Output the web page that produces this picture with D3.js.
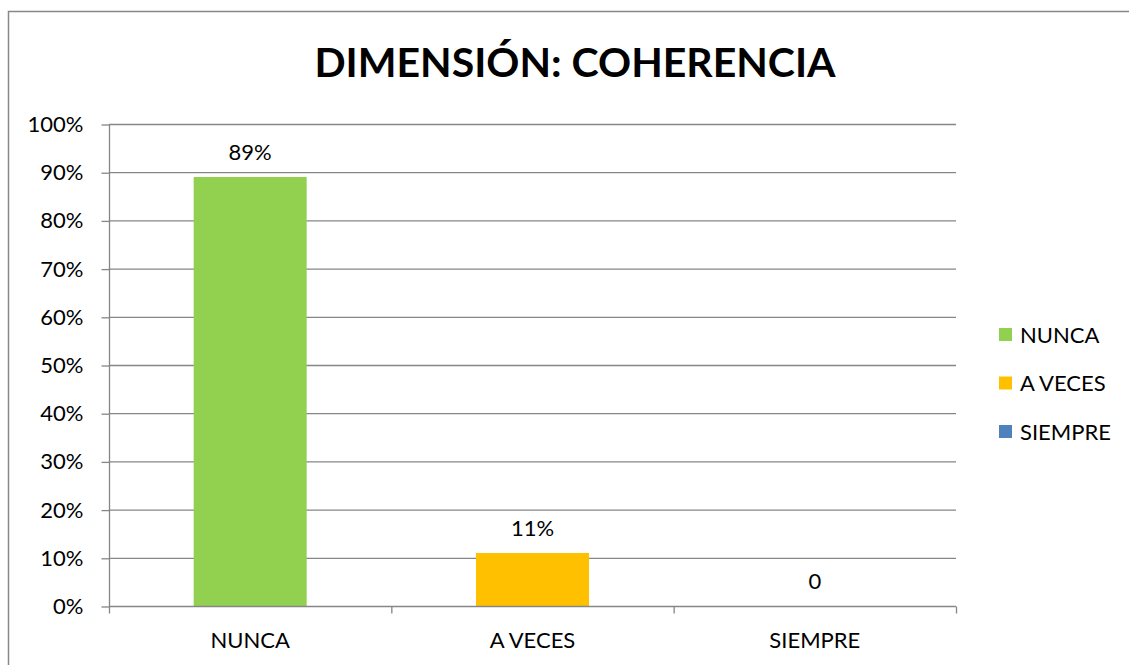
<!DOCTYPE html>
<html><head><meta charset="utf-8">
<script src="https://cdn.jsdelivr.net/npm/d3@7"></script>
<style>body{margin:0;background:#fff}svg{display:block}text{font-family:Lato,"Open Sans",sans-serif}</style>
</head><body>
<svg id="c" width="1129" height="665"></svg>
<script>
const categories = ["NUNCA", "A VECES", "SIEMPRE"];
const values = [0.89, 0.11, 0];
const labels = ["89%", "11%", "0"];
const colors = ["#92D050", "#FFC000", "#4F81BD"];
const yTicks = [0,0.1,0.2,0.3,0.4,0.5,0.6,0.7,0.8,0.9,1.0];
const title = "DIMENSIÓN: COHERENCIA";
const fs = 22;

const svg = d3.select("#c");
svg.append("rect").attr("x",8.5).attr("y",11.5).attr("width",1130).attr("height",670)
  .attr("fill","#fff").attr("stroke","#888").attr("stroke-width",1.5);

const m = {l:109, r:956, t:124, b:606};
const xb = d3.scaleBand().domain(categories).range([m.l, m.r]);
const y = d3.scaleLinear().domain([0,1]).range([m.b, m.t]);

// gridlines
svg.append("g").selectAll("line").data(yTicks.slice(1)).join("line")
  .attr("x1",m.l).attr("x2",m.r).attr("y1",d=>y(d)+0.5).attr("y2",d=>y(d)+0.5)
  .attr("stroke","#868686").attr("stroke-width",1.3);

// bars
svg.append("g").selectAll("rect").data(categories).join("rect")
  .attr("x",d=>xb(d)+xb.bandwidth()/2-56.5).attr("width",113)
  .attr("y",(d,i)=>y(values[i])).attr("height",(d,i)=>y(0)-y(values[i]))
  .attr("fill",(d,i)=>colors[i]);

// y axis
const ya = d3.axisLeft(y).tickValues(yTicks).tickFormat(d3.format(".0%")).tickSize(8).tickPadding(18);
const gy = svg.append("g").attr("transform",`translate(${m.l+0.5},0.5)`).call(ya);
gy.selectAll("path,line").attr("stroke","#868686").attr("stroke-width",1.3);
gy.select(".domain").attr("d",`M0,${m.t}V${m.b}`);
gy.selectAll("text").attr("font-size",fs).attr("fill","#000").attr("font-family","Lato,sans-serif");

// x axis
const gx = svg.append("g").attr("transform",`translate(0,${m.b+0.5})`);
gx.append("line").attr("x1",m.l).attr("x2",m.r).attr("stroke","#868686").attr("stroke-width",1.3);
const edges = categories.map(c=>xb(c)).concat([m.r]);
gx.selectAll("line.t").data(edges).join("line").attr("class","t")
  .attr("x1",d=>d+0.5).attr("x2",d=>d+0.5).attr("y1",0).attr("y2",7)
  .attr("stroke","#868686").attr("stroke-width",1.3);
gx.selectAll("text").data(categories).join("text")
  .attr("x",d=>xb(d)+xb.bandwidth()/2).attr("y",41).attr("text-anchor","middle")
  .attr("font-size",fs).text(d=>d);

// data labels
svg.append("g").selectAll("text").data(categories).join("text")
  .attr("x",d=>xb(d)+xb.bandwidth()/2).attr("y",(d,i)=>y(values[i])-17)
  .attr("text-anchor","middle").attr("font-size",fs).text((d,i)=>labels[i]);

// title
svg.append("text").attr("x",575).attr("y",77).attr("text-anchor","middle")
  .attr("font-size",41).attr("font-weight","bold").text(title);

// legend
const lg = svg.append("g").selectAll("g").data(categories).join("g")
  .attr("transform",(d,i)=>`translate(999,${328+i*48.5})`);
lg.append("rect").attr("width",13).attr("height",13).attr("fill",(d,i)=>colors[i]);
lg.append("text").attr("x",21).attr("y",14.5).attr("font-size",fs).text(d=>d);
</script>
</body></html>
